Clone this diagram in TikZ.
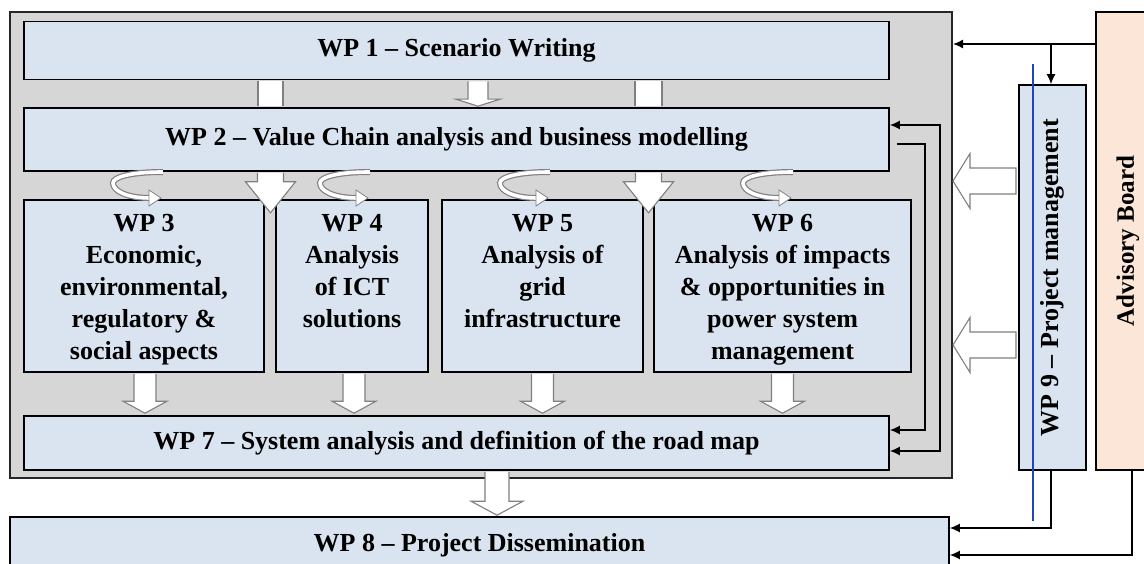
\documentclass[tikz,border=0pt]{standalone}
\usepackage{fontspec}
\setmainfont{Liberation Serif}
\usetikzlibrary{arrows.meta,calc}

\definecolor{wpblue}{HTML}{DAE3F0}
\definecolor{framegray}{HTML}{D6D6D6}
\definecolor{peach}{HTML}{FCE6D8}
\definecolor{markblue}{HTML}{2244B8}
\definecolor{outlinegray}{HTML}{808080}

% hollow block arrow pointing down: #1 start, #2 tip, #3 shaft half width, #4 head half width, #5 head length
\newcommand{\blockdown}[5]{%
  \path[fill=white] let \p1=#1, \p2=#2 in
    (\x1-#3,\y1) -- (\x1-#3,\y2+#5) -- (\x1-#4,\y2+#5) -- (\x1,\y2)
    -- (\x1+#4,\y2+#5) -- (\x1+#3,\y2+#5) -- (\x1+#3,\y1) -- cycle;
  \draw[arrowline] let \p1=#1, \p2=#2 in
    (\x1-#3,\y1) -- (\x1-#3,\y2+#5) -- (\x1-#4,\y2+#5) -- (\x1,\y2)
    -- (\x1+#4,\y2+#5) -- (\x1+#3,\y2+#5) -- (\x1+#3,\y1);}
% hollow block arrow pointing left: #1 right end, #2 tip
\newcommand{\blockleft}[5]{%
  \filldraw[arrowline, fill=white] let \p1=#1, \p2=#2 in
    (\x1,\y1+#3) -- (\x2+#5,\y1+#3) -- (\x2+#5,\y1+#4) -- (\x2,\y1)
    -- (\x2+#5,\y1-#4) -- (\x2+#5,\y1-#3) -- (\x1,\y1-#3) -- cycle;}

\tikzset{
  wpfont/.style={font=\fontsize{26}{32}\selectfont\bfseries},
  wpbox/.style={draw=black, line width=1.6pt, fill=wpblue, inner sep=0pt, wpfont},
  wptext/.style={align=center, inner sep=0pt, wpfont},
  arrowline/.style={draw=outlinegray, line width=1.1pt, line join=miter},
  conn/.style={draw=black, line width=1.5pt, -{Latex[length=10pt,width=9pt]}},
  curl/.pic={
    \draw[outlinegray, line width=6pt]
      (50,-14) .. controls (18,-14) and (0,-9) .. (0,-3) .. controls (0,5) and (14,12) .. (37,12);
    \draw[white, line width=3.6pt]
      (50,-14) .. controls (18,-14) and (0,-9) .. (0,-3) .. controls (0,5) and (14,12) .. (37,12);
    \filldraw[fill=white, draw=outlinegray, line width=0.8pt]
      (36,4) -- (48,12) -- (36,20) -- cycle;
  }
}

\begin{document}
\begin{tikzpicture}[x=1pt, y=-1pt]
\useasboundingbox (0,0) rectangle (1144,564);
\clip (0,0) rectangle (1144,564);
\fill[white] (0,0) rectangle (1144,564);

% grey frame holding WP 1 to WP 7
\node[draw=black!85, line width=2pt, fill=framegray, inner sep=0pt,
      minimum width=942, minimum height=466] (frame) at (481,245) {};

% work package boxes
\node[wpbox, minimum width=865, minimum height=58] (wp1) at (456.5,50.5) {WP 1 – Scenario Writing};
\node[wpbox, minimum width=865, minimum height=63] (wp2) at (456.5,139.5) {WP 2 – Value Chain analysis and business modelling};
\node[wpbox, minimum width=240, minimum height=172] (wp3) at (144,286) {};
\node[wpbox, minimum width=152, minimum height=172] (wp4) at (352,286) {};
\node[wpbox, minimum width=201, minimum height=172] (wp5) at (542.5,286) {};
\node[wpbox, minimum width=257, minimum height=172] (wp6) at (782.5,286) {};
\node[wpbox, minimum width=865, minimum height=54] (wp7) at (456.5,443) {WP 7 – System analysis and definition of the road map};
\node[wpbox, minimum width=939, minimum height=56] (wp8) at (479.5,545) {WP 8 – Project Dissemination};

\node[wptext, anchor=north] (t3) at ($(wp3.north)+(0,15)$) {WP 3\\Economic,\\environmental,\\regulatory \&\\social aspects};
\node[wptext, anchor=north] (t4) at ($(wp4.north)+(0,15)$) {WP 4\\Analysis\\of ICT\\solutions};
\node[wptext, anchor=north] (t5) at ($(wp5.north)+(0,15)$) {WP 5\\Analysis of\\grid\\infrastructure};
\node[wptext, anchor=north] (t6) at ($(wp6.north)+(0,15)$) {WP 6\\Analysis of impacts\\\& opportunities in\\power system\\management};

% project management and advisory board
\node[wpbox, minimum width=67, minimum height=385] (wp9) at (1052.5,277.5) {};
\node[wptext, rotate=90] (t9) at (wp9.center) {WP 9 – Project management};
\node[draw=black, line width=1.6pt, fill=peach, inner sep=0pt,
      minimum width=64, minimum height=458] (adv) at (1128,241) {};
\node[wptext, rotate=90, font=\fontsize{25}{28}\selectfont\bfseries] (tadv) at (1128,241) {Advisory Board};

% flows from WP 1 to WP 2
\coordinate (xa) at (270.5,0);
\coordinate (xb) at (478,0);
\coordinate (xc) at (648.5,0);
\fill[white] ($(wp1.south -| xa)+(-12.5,1)$) rectangle ($(wp2.north -| xa)+(12.5,-1)$);
\draw[arrowline] ($(wp1.south -| xa)+(-12.5,1)$) -- ($(wp2.north -| xa)+(-12.5,-1)$)
                 ($(wp1.south -| xa)+(12.5,1)$) -- ($(wp2.north -| xa)+(12.5,-1)$);
\fill[white] ($(wp1.south -| xc)+(-13.5,1)$) rectangle ($(wp2.north -| xc)+(13.5,-1)$);
\draw[arrowline] ($(wp1.south -| xc)+(-13.5,1)$) -- ($(wp2.north -| xc)+(-13.5,-1)$)
                 ($(wp1.south -| xc)+(13.5,1)$) -- ($(wp2.north -| xc)+(13.5,-1)$);
\blockdown{($(wp1.south -| xb)+(0,1)$)}{($(wp2.north -| xb)+(0,-1)$)}{10pt}{22pt}{7pt}

% WP 2 into the analysis packages
\blockdown{($(wp2.south -| xa)+(0,1)$)}{($(wp2.south -| xa)+(0,41)$)}{13pt}{25pt}{31pt}
\blockdown{($(wp2.south -| xc)+(0,1)$)}{($(wp2.south -| xc)+(0,41)$)}{13pt}{25pt}{31pt}

% exchanges between the analysis packages
\pic at (113,186) {curl};
\pic at (320,186) {curl};
\pic at (500,186) {curl};
\pic at (743,186) {curl};

% analysis packages into WP 7
\blockdown{($(wp3.south)+(1,1)$)}{($(wp3.south |- wp7.north)+(1,-2)$)}{11pt}{22pt}{12pt}
\blockdown{($(wp4.south)+(2,1)$)}{($(wp4.south |- wp7.north)+(2,-2)$)}{11pt}{22pt}{12pt}
\blockdown{($(wp5.south)+(0,1)$)}{($(wp5.south |- wp7.north)+(0,-2)$)}{11pt}{22pt}{12pt}
\blockdown{($(wp6.south)+(0,1)$)}{($(wp6.south |- wp7.north)+(0,-2)$)}{11pt}{22pt}{12pt}

% WP 7 into WP 8
\coordinate (xd) at (497,0);
\blockdown{($(wp7.south -| xd)+(0,1)$)}{($(wp8.north -| xd)+(0,-1)$)}{12pt}{26pt}{14pt}

% feedback loops between WP 2 and WP 7
\coordinate (la) at (940,125);
\coordinate (lb) at (940,451);
\coordinate (lc) at (925,144);
\coordinate (ld) at (925,430);
\draw[conn, {Latex[length=10pt,width=9pt]}-{Latex[length=10pt,width=9pt]}]
  (wp2.east |- la) -- (la) -- (lb) -- (wp7.east |- lb);
\draw[conn] ($(wp2.east |- lc)+(7,0)$) -- (lc) -- (ld) -- (wp7.east |- ld);

% project management acting on the work packages
\coordinate (pa) at (1016,181);
\coordinate (pb) at (1016,345);
\blockleft{(pa)}{(frame.east |- pa)}{13pt}{27.5pt}{17pt}
\blockleft{(pb)}{(frame.east |- pb)}{13pt}{27.5pt}{17pt}

% advisory board links
\coordinate (ja) at (1051,44);
\coordinate (jb) at (1051,528);
\coordinate (jc) at (1132,555);
\draw[conn] (adv.west |- ja) -- (frame.east |- ja);
\draw[conn] (ja) -- (ja |- wp9.north);
\draw[conn] (wp9.south -| jb) -- (jb) -- (wp8.east |- jb);
\draw[conn] (adv.south -| jc) -- (jc) -- (wp8.east |- jc);

% vertical blue rule across WP 9
\coordinate (ba) at (1033,64);
\coordinate (bb) at (1033,521);
\draw[markblue, line width=2pt] (ba) -- (bb);
\end{tikzpicture}
\end{document}
